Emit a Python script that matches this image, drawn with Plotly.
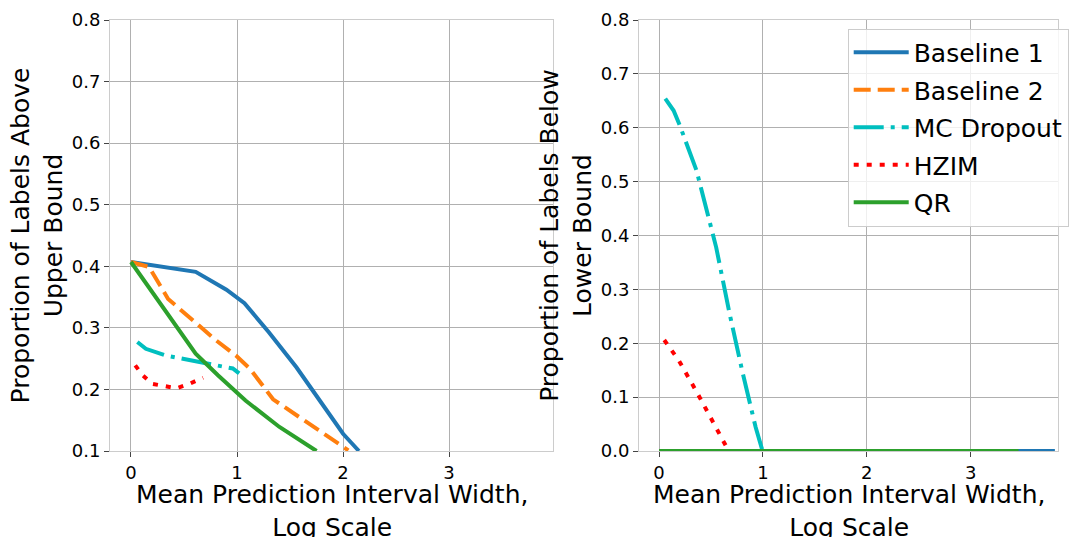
import plotly.graph_objects as go

# ---------------- data ----------------
# Left panel: proportion of labels above upper bound
b1_x_up = [0, 0.61, 0.90, 1.07, 1.30, 1.56, 1.78, 2.00, 2.08, 2.15]
b1_y_up = [0.407, 0.391, 0.362, 0.340, 0.293, 0.236, 0.182, 0.128, 0.113, 0.100]

b2_x_up = [0, 0.17, 0.35, 0.58, 0.80, 0.99, 1.12, 1.34, 1.59, 1.87, 2.05]
b2_y_up = [0.407, 0.399, 0.347, 0.312, 0.280, 0.255, 0.234, 0.184, 0.155, 0.123, 0.101]

mc_x_up = [0.06, 0.14, 0.33, 0.74, 0.96, 1.02]
mc_y_up = [0.277, 0.266, 0.255, 0.242, 0.234, 0.226]

hz_x_up = [0.04, 0.11, 0.20, 0.31, 0.43, 0.55, 0.68]
hz_y_up = [0.239, 0.223, 0.209, 0.205, 0.202, 0.209, 0.219]

qr_x_up = [0, 0.33, 0.61, 0.82, 1.08, 1.40, 1.75]
qr_y_up = [0.407, 0.326, 0.258, 0.223, 0.182, 0.139, 0.100]

# Right panel: proportion of labels below lower bound
b1_x_lo = [0, 3.81]
b1_y_lo = [0.0, 0.0]

b2_x_lo = [0, 3.40]
b2_y_lo = [0.0, 0.0]

mc_x_lo = [0.06, 0.14, 0.20, 0.36, 0.55, 0.68, 0.80, 0.93, 0.99, 1.02]
mc_y_lo = [0.654, 0.632, 0.604, 0.521, 0.378, 0.254, 0.149, 0.044, 0.004, 0.0]

hz_x_lo = [0.05, 0.19, 0.37, 0.54, 0.67]
hz_y_lo = [0.206, 0.168, 0.107, 0.046, 0.0]

qr_x_lo = [0, 3.46]
qr_y_lo = [0.0, 0.0]

names = ["Baseline 1", "Baseline 2", "MC Dropout", "HZIM", "QR"]
colors = ["#1f77b4", "#ff7f0e", "#00bfbf", "#ff0000", "#2ca02c"]
dashes = ["solid", "17px,7px", "30px,7px,4px,7px", "5px,8px", "solid"]

x_ticks = [0, 1, 2, 3]
y_ticks_up = [0.1, 0.2, 0.3, 0.4, 0.5, 0.6, 0.7, 0.8]
y_ticks_lo = [0.0, 0.1, 0.2, 0.3, 0.4, 0.5, 0.6, 0.7, 0.8]

x_title = "Mean Prediction Interval Width,<br>Log Scale"
y_title_up = "Proportion of Labels Above<br>Upper Bound"
y_title_lo = "Proportion of Labels Below<br>Lower Bound"

# ---------------- figure ----------------
FONT = "DejaVu Sans"
fig = go.Figure()

left = [(b1_x_up, b1_y_up), (b2_x_up, b2_y_up), (mc_x_up, mc_y_up), (hz_x_up, hz_y_up), (qr_x_up, qr_y_up)]
right = [(b1_x_lo, b1_y_lo), (b2_x_lo, b2_y_lo), (mc_x_lo, mc_y_lo), (hz_x_lo, hz_y_lo), (qr_x_lo, qr_y_lo)]

for i, (xs, ys) in enumerate(left):
    fig.add_trace(go.Scatter(x=xs, y=ys, mode="lines", name=names[i], legendgroup=names[i],
                             showlegend=False,
                             line=dict(color=colors[i], width=4, dash=dashes[i]),
                             xaxis="x", yaxis="y"))
for i, (xs, ys) in enumerate(right):
    fig.add_trace(go.Scatter(x=xs, y=ys, mode="lines", name=names[i], legendgroup=names[i],
                             showlegend=True,
                             line=dict(color=colors[i], width=4, dash=dashes[i]),
                             xaxis="x2", yaxis="y2"))

W, H = 1073, 537
MT, MB = 20, 86
PLOT_H = H - MT - MB
axis_common = dict(
    showgrid=True, gridcolor="#b0b0b0", gridwidth=1,
    showline=True, linecolor="#cccccc", linewidth=1, mirror=True,
    ticks="outside", ticklen=5, tickcolor="#444444", tickwidth=1,
    tickfont=dict(family=FONT, size=18, color="#000000"),
    zeroline=False, automargin=False,
)
TITLE_SIZE = 25
dom_left = [110 / W, 553 / W]
dom_right = [639 / W, 1058 / W]

fig.update_layout(
    width=W, height=H,
    margin=dict(l=0, r=0, t=MT, b=MB),
    paper_bgcolor="white", plot_bgcolor="white",
    font=dict(family=FONT, color="#000000"),
    xaxis=dict(axis_common, domain=dom_left, range=[-0.198, 3.98],
               tickvals=x_ticks, ticktext=[str(v) for v in x_ticks]),
    yaxis=dict(axis_common, range=[0.1, 0.8], tickvals=y_ticks_up,
               ticktext=[f"{v:.1f}" for v in y_ticks_up],
               title=dict(text=y_title_up, font=dict(family=FONT, size=TITLE_SIZE), standoff=2)),
    xaxis2=dict(axis_common, domain=dom_right, range=[-0.193, 3.84],
                anchor="y2",
                tickvals=x_ticks, ticktext=[str(v) for v in x_ticks]),
    yaxis2=dict(axis_common, range=[0.0, 0.8], anchor="x2", tickvals=y_ticks_lo,
                ticktext=[f"{v:.1f}" for v in y_ticks_lo],
                title=dict(text=y_title_lo, font=dict(family=FONT, size=TITLE_SIZE), standoff=2)),
    legend=dict(x=0.996, xanchor="right", y=0.98, yanchor="top",
                bgcolor="rgba(255,255,255,0.8)", bordercolor="#cccccc", borderwidth=1,
                font=dict(family=FONT, size=25, color="#000000"),
                itemwidth=55, tracegroupgap=2),
)

# x-axis titles as annotations (centred under each panel)
y_title_px = 511  # vertical centre of the two-line block, in pixels from top
for dom in (dom_left, dom_right):
    fig.add_annotation(text=x_title, xref="paper", yref="paper",
                       x=(dom[0] + dom[1]) / 2, y=(H - MB - y_title_px) / PLOT_H,
                       xanchor="center", yanchor="middle", showarrow=False,
                       font=dict(family=FONT, size=TITLE_SIZE, color="#000000"))

fig.write_html("out.html")
